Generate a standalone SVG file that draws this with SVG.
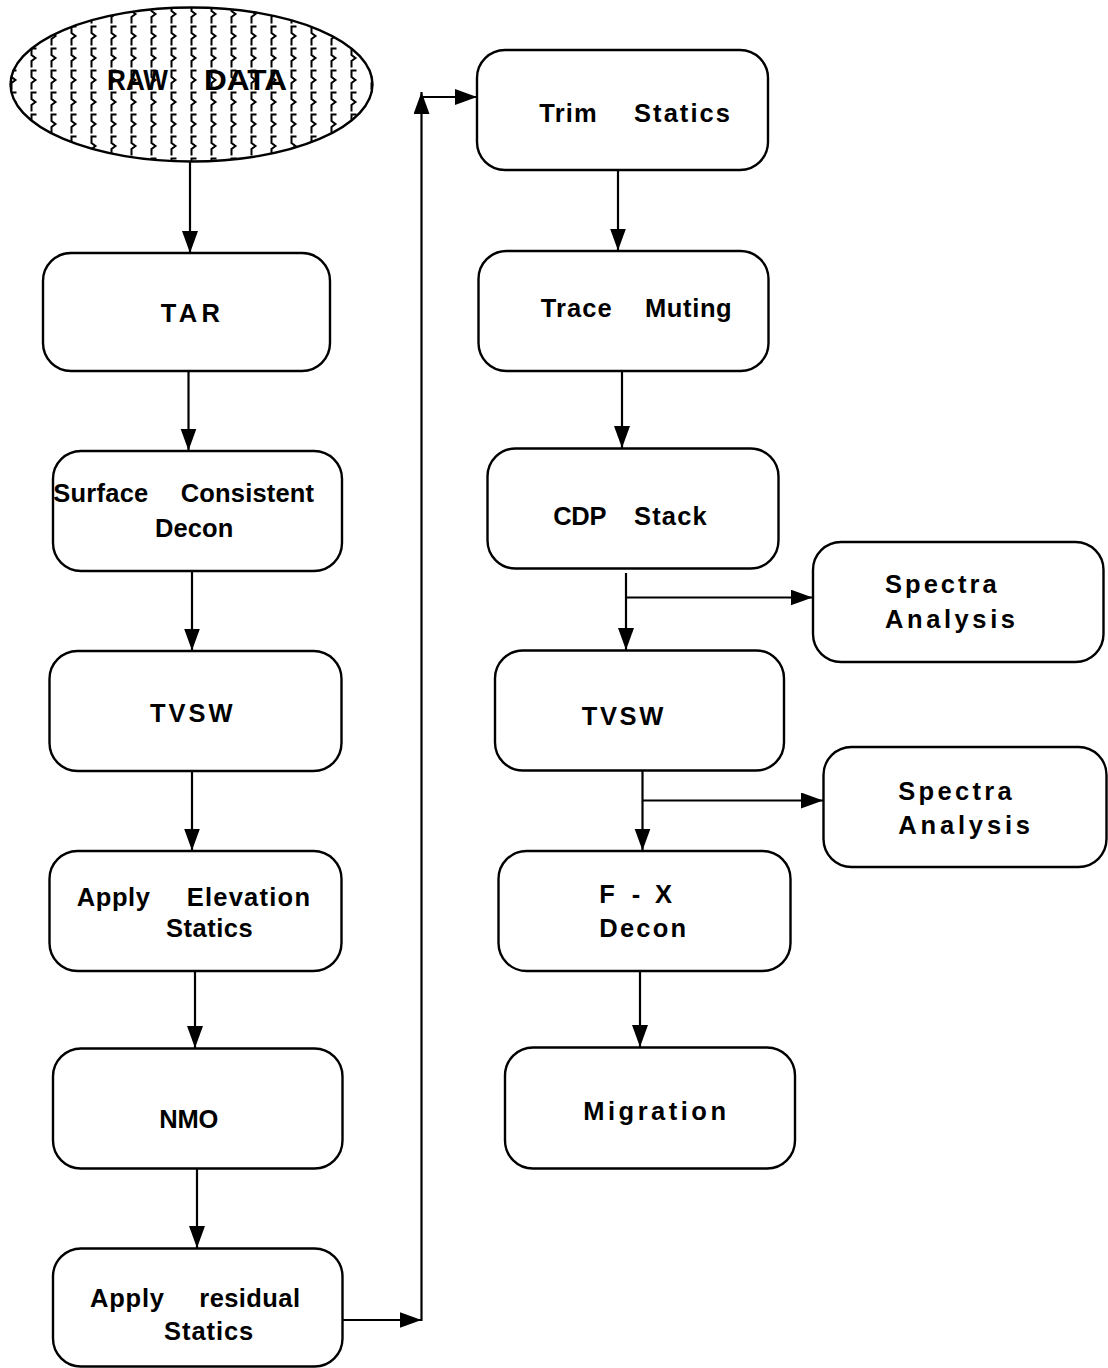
<svg xmlns="http://www.w3.org/2000/svg" width="1108" height="1368" viewBox="0 0 1108 1368">
<style>
.box{fill:#fff;stroke:#000;stroke-width:2.4}
.lbl{font-family:"Liberation Sans",Arial,sans-serif;font-weight:bold;font-size:25.5px;fill:#000}
.raw{font-size:30px}
.con{fill:none;stroke:#000;stroke-width:2.2}
</style>
<defs>
<marker id="ah" markerUnits="userSpaceOnUse" markerWidth="23" markerHeight="17" refX="22" refY="8" orient="auto">
<path d="M0,0 L22,8 L0,16 z" fill="#000"/>
</marker>
<pattern id="zig" patternUnits="userSpaceOnUse" x="2" y="3" width="20" height="22">
<path d="M14.5,1.5 H9.5 V8 L13.5,11 L9.5,14 V20.5" fill="none" stroke="#000" stroke-width="2"/>
</pattern>
</defs>
<g id="raw-data">
<ellipse cx="191.5" cy="84.5" rx="181" ry="77" fill="#fff"/>
<ellipse cx="191.5" cy="84.5" rx="181" ry="77" fill="url(#zig)" stroke="#000" stroke-width="2.4"/>
<text class="lbl raw" y="90"><tspan x="107" textLength="61" lengthAdjust="spacingAndGlyphs">RAW</tspan> <tspan x="204" textLength="83" lengthAdjust="spacingAndGlyphs">DATA</tspan></text>
</g>
<g id="tar">
<rect class="box" x="43" y="253" width="287" height="118" rx="28"/>
<text class="lbl" y="321.7"><tspan x="160.7" textLength="59.3">TAR</tspan></text>
</g>
<g id="surface-consistent-decon">
<rect class="box" x="53" y="451" width="289" height="120" rx="28"/>
<text class="lbl" y="502.3"><tspan x="53.3" textLength="95">Surface</tspan> <tspan x="180.7" textLength="133.3">Consistent</tspan></text>
<text class="lbl" y="537.3"><tspan x="155" textLength="78.3">Decon</tspan></text>
</g>
<g id="tvsw-1">
<rect class="box" x="49.5" y="651" width="292" height="120" rx="28"/>
<text class="lbl" y="721.7"><tspan x="150" textLength="82.7">TVSW</tspan></text>
</g>
<g id="apply-elevation-statics">
<rect class="box" x="49.5" y="851" width="292" height="120" rx="28"/>
<text class="lbl" y="906"><tspan x="76.7" textLength="73.3">Apply</tspan> <tspan x="186.7" textLength="123.3">Elevation</tspan></text>
<text class="lbl" y="936.7"><tspan x="166" textLength="86.7">Statics</tspan></text>
</g>
<g id="nmo">
<rect class="box" x="53" y="1048.5" width="289.5" height="120" rx="28"/>
<text class="lbl" y="1128.3"><tspan x="159.3" textLength="59">NMO</tspan></text>
</g>
<g id="apply-residual-statics">
<rect class="box" x="53" y="1248.5" width="289.5" height="118" rx="28"/>
<text class="lbl" y="1306.7"><tspan x="90" textLength="74">Apply</tspan> <tspan x="199.3" textLength="100.7">residual</tspan></text>
<text class="lbl" y="1340"><tspan x="164" textLength="89.3">Statics</tspan></text>
</g>
<g id="trim-statics">
<rect class="box" x="477" y="50" width="291" height="120" rx="28"/>
<text class="lbl" y="122.3"><tspan x="539.3" textLength="57.4">Trim</tspan> <tspan x="634" textLength="96">Statics</tspan></text>
</g>
<g id="trace-muting">
<rect class="box" x="478.5" y="251" width="290" height="120" rx="28"/>
<text class="lbl" y="316.7"><tspan x="540.7" textLength="71">Trace</tspan> <tspan x="645" textLength="86.7">Muting</tspan></text>
</g>
<g id="cdp-stack">
<rect class="box" x="487.5" y="448.5" width="291" height="120" rx="28"/>
<text class="lbl" y="525"><tspan x="553.3" textLength="52.7">CDP</tspan> <tspan x="634" textLength="72.7">Stack</tspan></text>
</g>
<g id="spectra-analysis-1">
<rect class="box" x="813" y="542" width="290.5" height="120" rx="28"/>
<text class="lbl" y="593.3"><tspan x="885" textLength="111.7">Spectra</tspan></text>
<text class="lbl" y="628.3"><tspan x="885" textLength="130">Analysis</tspan></text>
</g>
<g id="tvsw-2">
<rect class="box" x="495" y="650.5" width="289" height="120" rx="28"/>
<text class="lbl" y="725"><tspan x="581.7" textLength="81.6">TVSW</tspan></text>
</g>
<g id="spectra-analysis-2">
<rect class="box" x="823.5" y="747" width="283" height="120" rx="28"/>
<text class="lbl" y="800"><tspan x="898.3" textLength="113.4">Spectra</tspan></text>
<text class="lbl" y="834"><tspan x="898.3" textLength="131.7">Analysis</tspan></text>
</g>
<g id="fx-decon">
<rect class="box" x="498.5" y="851" width="292" height="120" rx="28"/>
<text class="lbl" y="903.3"><tspan x="599.3">F</tspan> <tspan x="631.7">-</tspan> <tspan x="655">X</tspan></text>
<text class="lbl" y="937.3"><tspan x="599.3" textLength="86.7">Decon</tspan></text>
</g>
<g id="migration">
<rect class="box" x="505" y="1047.5" width="290" height="121" rx="28"/>
<text class="lbl" y="1120"><tspan x="583.3" textLength="142.7">Migration</tspan></text>
</g>
<g id="connectors">
<path class="con" d="M190,162 V253" marker-end="url(#ah)"/>
<path class="con" d="M188.5,371 V450.5" marker-end="url(#ah)"/>
<path class="con" d="M192,571 V650.5" marker-end="url(#ah)"/>
<path class="con" d="M192,771 V850.5" marker-end="url(#ah)"/>
<path class="con" d="M195,971 V1048" marker-end="url(#ah)"/>
<path class="con" d="M197,1168.5 V1248" marker-end="url(#ah)"/>
<path class="con" d="M342.5,1320 H421.5" marker-end="url(#ah)"/>
<path class="con" d="M421.5,1321 V92" marker-end="url(#ah)"/>
<path class="con" d="M420.5,97 H477" marker-end="url(#ah)"/>
<path class="con" d="M618,170 V250.5" marker-end="url(#ah)"/>
<path class="con" d="M622,371 V448" marker-end="url(#ah)"/>
<path class="con" d="M626,573 V650" marker-end="url(#ah)"/>
<path class="con" d="M626,597.5 H812.5" marker-end="url(#ah)"/>
<path class="con" d="M642.5,771 V850.5" marker-end="url(#ah)"/>
<path class="con" d="M642.5,800.5 H823" marker-end="url(#ah)"/>
<path class="con" d="M640,971 V1047" marker-end="url(#ah)"/>
</g>
</svg>
